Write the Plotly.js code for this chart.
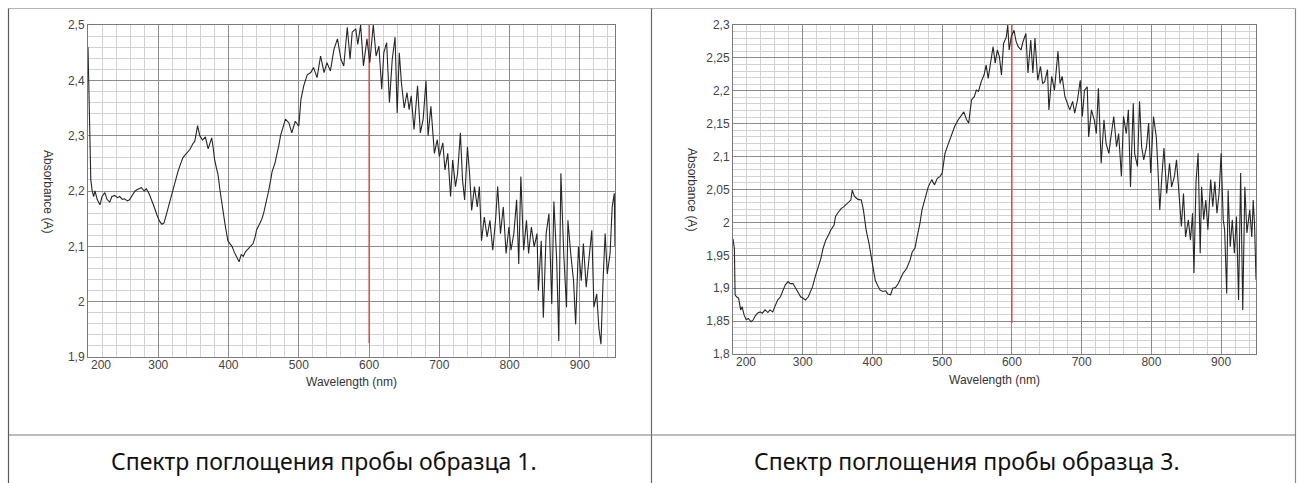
<!DOCTYPE html>
<html>
<head>
<meta charset="utf-8">
<script src="https://cdn.plot.ly/plotly-3.0.1.min.js"></script>
<style>
  html, body { margin: 0; padding: 0; background: #fff; }
  #chart { width: 1302px; height: 483px; }
</style>
</head>
<body>
<div id="chart"></div>
<script>
// Sample 1: absorbance spectrum
const wl1 = [
  200,202,204,206,208,210,213,217,220,224,
  227,231,234,238,242,245,249,252,256,259,
  263,267,271,276,280,283,287,290,294,298,
  302,305,308,311,314,318,321,325,328,332,
  335,338,342,345,349,352,356,359,363,367,
  371,374,376,378,380,383,385,388,390,393,
  395,397,399,402,405,408,412,415,418,421,
  424,428,431,435,438,440,444,447,450,452,
  455,457,460,462,466,469,472,474,478,481,
  486,490,495,500,503,507,512,517,521,526,
  531,536,540,545,550,555,560,564,569,573,
  576,581,584,588,592,597,601,606,610,614,
  618,621,625,629,633,637,640,643,646,650,
  654,657,660,664,669,673,677,681,684,688,
  693,697,700,705,708,712,716,719,723,726,
  730,733,736,740,743,746,750,754,757,760,
  764,768,772,776,780,783,787,791,795,799,
  802,806,810,813,816,820,824,827,831,835,
  839,841,845,848,852,856,860,863,867,870,
  873,877,881,883,887,891,894,898,902,905,
  909,913,917,920,924,927,930,933,936,939,
  943,946,949,950
];
const abs1 = [
  2.46,2.33,2.22,2.2,2.19,2.2,2.185,2.175,2.19,2.197,
  2.185,2.18,2.19,2.192,2.188,2.19,2.185,2.186,2.182,2.184,
  2.192,2.2,2.203,2.206,2.2,2.204,2.195,2.186,2.172,2.157,
  2.145,2.14,2.142,2.155,2.17,2.185,2.2,2.22,2.235,2.25,
  2.26,2.265,2.272,2.275,2.285,2.29,2.318,2.3,2.292,2.298,
  2.276,2.29,2.296,2.28,2.258,2.24,2.23,2.2,2.18,2.16,
  2.14,2.125,2.11,2.105,2.1,2.09,2.078,2.072,2.085,2.082,
  2.09,2.095,2.1,2.105,2.118,2.13,2.14,2.148,2.16,2.17,
  2.185,2.2,2.22,2.235,2.25,2.265,2.285,2.3,2.315,2.33,
  2.323,2.305,2.326,2.317,2.365,2.39,2.41,2.414,2.423,2.405,
  2.444,2.414,2.432,2.417,2.456,2.475,2.438,2.426,2.496,2.438,
  2.487,2.493,2.465,2.5,2.426,2.475,2.432,2.5,2.444,2.462,
  2.384,2.45,2.468,2.36,2.438,2.478,2.341,2.45,2.396,2.35,
  2.378,2.347,2.372,2.311,2.39,2.305,2.33,2.399,2.3,2.353,
  2.268,2.293,2.262,2.287,2.238,2.268,2.19,2.256,2.208,2.232,
  2.305,2.22,2.184,2.28,2.232,2.165,2.208,2.171,2.208,2.11,
  2.153,2.117,2.147,2.093,2.147,2.208,2.123,2.171,2.087,2.135,
  2.093,2.123,2.184,2.068,2.226,2.093,2.147,2.087,2.135,2.099,
  2.123,2.02,2.11,1.971,2.123,2.159,1.996,2.181,2.075,1.929,
  2.232,2.087,1.99,2.147,2.087,2.038,1.959,2.099,2.038,2.105,
  2.026,2.075,2.129,1.99,2.014,1.953,1.923,2.038,2.123,2.05,
  2.087,2.171,2.196,2.1
];

// Sample 3: absorbance spectrum
const wl3 = [
  200,202,203,205,208,211,213,216,219,222,
  226,229,232,235,239,242,246,250,253,257,
  260,264,268,271,275,279,282,286,289,293,
  297,300,304,308,311,314,318,322,326,329,
  333,337,340,345,347,350,355,359,364,369,
  371,374,379,384,387,391,395,398,401,404,
  408,411,415,419,422,426,429,433,437,440,
  444,449,454,457,461,464,468,471,475,480,
  485,489,493,497,500,504,509,513,518,523,
  528,531,535,538,542,546,549,552,556,560,
  563,566,570,573,576,579,582,585,588,592,
  594,596,599,603,606,609,613,616,620,623,
  627,630,633,637,641,644,647,651,653,657,
  661,664,666,669,672,676,680,683,687,690,
  694,698,701,704,708,710,714,718,721,724,
  728,732,735,739,742,746,750,753,757,760,
  764,767,770,774,776,780,783,786,789,793,
  796,799,803,807,809,812,815,818,822,826,
  829,833,836,840,843,846,849,853,856,859,
  861,864,867,870,872,875,878,881,885,888,
  891,894,897,900,903,905,908,910,913,916,
  919,922,925,928,931,934,937,941,944,946,
  948,950
];
const abs3 = [
  1.975,1.96,1.89,1.887,1.885,1.867,1.872,1.859,1.852,1.854,
  1.849,1.852,1.858,1.862,1.864,1.862,1.867,1.863,1.867,1.864,
  1.872,1.882,1.887,1.895,1.905,1.91,1.907,1.907,1.902,1.895,
  1.887,1.885,1.882,1.887,1.895,1.902,1.918,1.93,1.945,1.96,
  1.973,1.981,1.988,1.996,2.009,2.014,2.021,2.024,2.029,2.034,
  2.049,2.04,2.035,2.034,2.019,1.988,1.968,1.948,1.928,1.912,
  1.903,1.897,1.895,1.896,1.891,1.89,1.9,1.901,1.907,1.915,
  1.923,1.93,1.943,1.955,1.961,1.978,1.998,2.019,2.034,2.054,
  2.065,2.057,2.067,2.07,2.075,2.105,2.12,2.133,2.146,2.156,
  2.163,2.168,2.156,2.151,2.186,2.191,2.201,2.199,2.214,2.224,
  2.239,2.219,2.247,2.267,2.242,2.262,2.252,2.224,2.272,2.282,
  2.3,2.262,2.282,2.292,2.275,2.267,2.262,2.275,2.287,2.227,
  2.277,2.227,2.28,2.216,2.237,2.211,2.214,2.232,2.171,2.222,
  2.201,2.242,2.26,2.211,2.222,2.191,2.181,2.171,2.184,2.166,
  2.186,2.216,2.161,2.201,2.206,2.13,2.171,2.156,2.135,2.204,
  2.09,2.156,2.12,2.105,2.13,2.161,2.115,2.135,2.07,2.161,
  2.135,2.171,2.054,2.181,2.105,2.085,2.184,2.115,2.095,2.115,
  2.151,2.075,2.161,2.13,2.09,2.019,2.07,2.113,2.044,2.09,
  2.054,2.07,2.095,2.044,1.994,2.044,1.978,2.004,1.973,2.014,
  1.923,2.062,2.105,1.953,2.054,2.004,2.034,1.989,2.065,2.024,
  2.062,2.014,2.044,2.105,2.004,1.989,1.892,2.049,1.963,2.004,
  1.953,2.009,1.882,2.075,1.867,2.054,1.984,2.019,1.978,2.034,
  1.994,1.913
];

// Axis ticks
const xTickVals = [200, 300, 400, 500, 600, 700, 800, 900];
const xTickLabels = ['200', '300', '400', '500', '600', '700', '800', '900'];
const y1TickVals = [1.9, 2.0, 2.1, 2.2, 2.3, 2.4, 2.5];
const y1TickLabels = ['1,9', '2', '2,1', '2,2', '2,3', '2,4', '2,5'];
const y3TickVals = [1.8, 1.85, 1.9, 1.95, 2.0, 2.05, 2.1, 2.15, 2.2, 2.25, 2.3];
const y3TickLabels = ['1,8', '1,85', '1,9', '1,95', '2', '2,05', '2,1', '2,15', '2,2', '2,25', '2,3'];

// Cursor line at the selected wavelength (start, end absorbance)
const cursorWl = 600;
const cursor1 = [1.925, 2.5];
const cursor3 = [1.847, 2.3];

// Texts
const xTitle = 'Wavelength (nm)';
const yTitle = 'Absorbance (A)';
const captions = ['Спектр поглощения пробы образца 1.', 'Спектр поглощения пробы образца 3.'];

const W = 1302, H = 483;
const px = v => v / W;           // pixel -> paper x
const py = v => 1 - v / H;       // pixel -> paper y

const axisFont = { family: 'Liberation Sans, Arial, sans-serif', size: 12, color: '#444' };

// The label at the left edge of the frame is placed just inside the frame
// as an annotation; the axis itself draws the remaining labels.
function xAxis(domain, anchor) {
  return {
    domain: domain, anchor: anchor, range: [200, 950],
    tickmode: 'array', tickvals: xTickVals.slice(1), ticktext: xTickLabels.slice(1),
    tickfont: axisFont, ticks: '', ticklabelstandoff: -3,
    showgrid: true, gridcolor: '#8c8c8c', gridwidth: 1,
    minor: { tickmode: 'linear', tick0: 200, dtick: 20, showgrid: true, gridcolor: '#d2d2d2', gridwidth: 1, ticks: '' },
    showline: true, mirror: true, linecolor: '#7a7a7a', linewidth: 1,
    zeroline: false, fixedrange: true
  };
}
function yAxis(domain, anchor, range, vals, text, minorStep) {
  return {
    domain: domain, anchor: anchor, range: range,
    tickmode: 'array', tickvals: vals, ticktext: text,
    tickfont: axisFont, ticks: '',
    showgrid: true, gridcolor: '#8c8c8c', gridwidth: 1,
    minor: { tickmode: 'linear', tick0: range[0], dtick: minorStep, showgrid: true, gridcolor: '#d2d2d2', gridwidth: 1, ticks: '' },
    showline: true, mirror: true, linecolor: '#7a7a7a', linewidth: 1,
    zeroline: false, fixedrange: true
  };
}

const lineStyle = { color: '#262626', width: 1.1 };
const traces = [
  { x: wl1, y: abs1, xaxis: 'x', yaxis: 'y', type: 'scatter', mode: 'lines', line: lineStyle, hoverinfo: 'x+y' },
  { x: wl3, y: abs3, xaxis: 'x2', yaxis: 'y2', type: 'scatter', mode: 'lines', line: lineStyle, hoverinfo: 'x+y' }
];

const borderLine = (x0, y0, x1, y1, c) => ({
  type: 'line', xref: 'paper', yref: 'paper',
  x0: px(x0), y0: py(y0), x1: px(x1), y1: py(y1),
  line: { color: c, width: 1.2 }, layer: 'above'
});

const shapes = [
  // cursor lines
  { type: 'line', xref: 'x', yref: 'y', x0: cursorWl, x1: cursorWl, y0: cursor1[0], y1: cursor1[1],
    line: { color: '#d2453f', width: 1.2 }, layer: 'between' },
  { type: 'line', xref: 'x2', yref: 'y2', x0: cursorWl, x1: cursorWl, y0: cursor3[0], y1: cursor3[1],
    line: { color: '#d2453f', width: 1.2 }, layer: 'between' },
  // table frame around the two panels
  borderLine(8.5, 8.5, 1295.5, 8.5, '#b4b4b4'),
  borderLine(8.5, 8.5, 8.5, 483, '#5a5a5a'),
  borderLine(651.5, 8.5, 651.5, 483, '#6a6a6a'),
  borderLine(1295.5, 8.5, 1295.5, 483, '#8a8a8a'),
  borderLine(8.5, 435, 1295.5, 435, '#7a7a7a')
];

const titleFont = { family: 'Liberation Sans, Arial, sans-serif', size: 12, color: '#333' };
const captionFont = { family: 'Noto Sans, Open Sans, sans-serif', size: 23, color: '#111' };
const edgeLabel = (xref, yref) => ({
  text: xTickLabels[0], xref: xref, yref: yref, x: xTickVals[0], y: 0,
  xanchor: 'left', yanchor: 'top', xshift: 1, yshift: 1, showarrow: false, font: axisFont
});
const annotations = [
  edgeLabel('x', 'y domain'),
  edgeLabel('x2', 'y2 domain'),
  { text: xTitle, xref: 'paper', yref: 'paper', x: px(351), y: py(382), showarrow: false, font: titleFont, xanchor: 'center', yanchor: 'middle' },
  { text: xTitle, xref: 'paper', yref: 'paper', x: px(994), y: py(380), showarrow: false, font: titleFont, xanchor: 'center', yanchor: 'middle' },
  { text: yTitle, xref: 'paper', yref: 'paper', x: px(48), y: py(191), showarrow: false, font: titleFont, textangle: 90, xanchor: 'center', yanchor: 'middle' },
  { text: yTitle, xref: 'paper', yref: 'paper', x: px(692), y: py(190), showarrow: false, font: titleFont, textangle: 90, xanchor: 'center', yanchor: 'middle' },
  { text: captions[0], xref: 'paper', yref: 'paper', x: px(324), y: py(461), showarrow: false, font: captionFont, xanchor: 'center', yanchor: 'middle' },
  { text: captions[1], xref: 'paper', yref: 'paper', x: px(967), y: py(461), showarrow: false, font: captionFont, xanchor: 'center', yanchor: 'middle' }
];

const layout = {
  width: W, height: H,
  margin: { l: 0, r: 0, t: 0, b: 0, pad: 0 },
  paper_bgcolor: '#ffffff', plot_bgcolor: '#ffffff',
  showlegend: false,
  xaxis: xAxis([px(88), px(615)], 'y'),
  yaxis: yAxis([py(357), py(25)], 'x', [1.9, 2.5], y1TickVals, y1TickLabels, 0.02),
  xaxis2: xAxis([px(733), px(1256)], 'y2'),
  yaxis2: yAxis([py(354), py(25)], 'x2', [1.8, 2.3], y3TickVals, y3TickLabels, 0.01),
  shapes: shapes,
  annotations: annotations
};

Plotly.newPlot('chart', traces, layout, { displayModeBar: false, staticPlot: true });
</script>
</body>
</html>
